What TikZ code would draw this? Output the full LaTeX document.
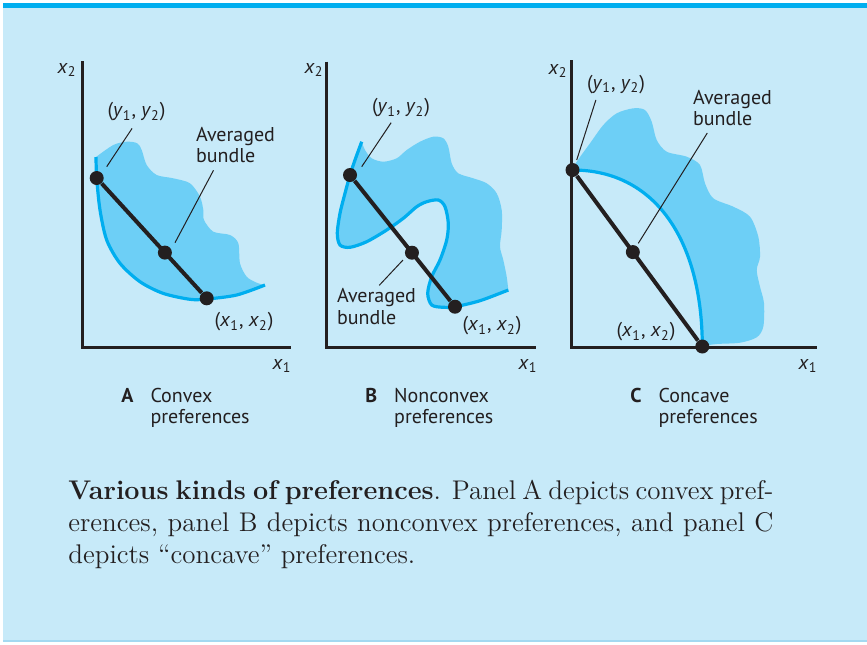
\documentclass[tikz,border=0pt]{standalone}
\usepackage{fontspec}
\setsansfont{PT Sans}
\usepackage{xcolor}
\definecolor{panelBlue}{HTML}{C7EAF9}
\definecolor{stripeBlue}{HTML}{00AEEF}
\definecolor{panelEdge}{HTML}{A3D9F1}
\definecolor{blobBlue}{HTML}{6DCFF6}
\definecolor{curveBlue}{HTML}{00AEEF}
\definecolor{inkGray}{HTML}{231F20}
\usepackage{tikz}
\usetikzlibrary{positioning}

\newcommand\vsub[2]{\textit{#1}\textsubscript{#2}}
\newcommand\pname[2]{\textbf{#1}\hspace{8.5pt}#2\\\phantom{\textbf{#1}}\hspace{8.5pt}preferences}

\begin{document}
\begin{tikzpicture}[
  x=0.5pt, y=-0.5pt,
  font=\sffamily\fontsize{10}{10.6}\selectfont, text=inkGray,
  axis/.style={draw=inkGray, line width=1.5pt},
  blob/.style={fill=blobBlue},
  indiff/.style={draw=curveBlue, line width=1.6pt},
  seg/.style={draw=inkGray, line width=2pt},
  dot/.style={circle, fill=inkGray, inner sep=0pt, minimum size=7pt},
  lead/.style={draw=inkGray, line width=0.5pt},
  lbl/.style={inner sep=0pt},
  note/.style={inner sep=0pt, align=left},
  panel/.style={inner sep=0pt, align=left, anchor=north west}
]
\useasboundingbox (0,0) rectangle (867,644);

% frame
\fill[white] (0,0) rectangle (867,644);
\fill[panelBlue] (3,4) rectangle (867,641);
\fill[stripeBlue] (3,3) rectangle (867,8);
\draw[panelEdge, line width=0.6pt] (3,641) -- (867,641);

% panel A: convex
\fill[blob] plot[smooth] coordinates {(96,157) (96.7,178) (100,210) (106.7,240) (120,263.3) (140,281.7) (163,293.3) (190,299.3) (206.7,299) (236.7,295) (265,285)}
  -- plot[smooth] coordinates {(265,285) (256.7,282.7) (246.7,276.7) (240,263.3) (238.3,243.3) (230,235) (213.3,231.7) (204,220) (203.3,210) (200,196.7) (190,183.3) (173.3,178.3) (156.7,175) (146.7,165) (141.7,150) (137.3,143.3) (126.7,141.7) (113.3,145) (96,157)} -- cycle;
\draw[indiff] plot[smooth] coordinates {(96,157) (96.7,178) (100,210) (106.7,240) (120,263.3) (140,281.7) (163,293.3) (190,299.3) (206.7,299) (236.7,295) (265,285)};
\draw[axis] (82,61) |- (291,347);
\node[dot] (yA) at (96.7,178) {};
\node[dot] (xA) at (206.7,298.3) {};
\path (yA.center) -- (xA.center) node[dot, pos=0.62] (mA) {};
\draw[seg] (yA) -- (xA);
\node[lbl] (lblYA) at (136.5,112) {(\vsub{y}{1}, \vsub{y}{2})};
\coordinate (tipYA) at (106.7,166.7);
\draw[lead, shorten <=4pt] (lblYA.south) -- (tipYA);
\node[note] (lblMA) at (235.5,145) {Averaged\\bundle};
\coordinate (tipMA) at (175,242.7);
\draw[lead, shorten <=4pt] (lblMA.-135) -- (tipMA);
\node[lbl] (lblXA) at (244,322) {(\vsub{x}{1}, \vsub{x}{2})};
\node[lbl] (axYA) at (67,70) {\vsub{x}{2}};
\node[lbl] (axXA) at (282,366) {\vsub{x}{1}};
\node[panel] (capA) at (121,387.5) {\pname{A}{Convex}};

% panel B: nonconvex
\fill[blob] plot[smooth] coordinates {(361.7,141.7) (355,160) (350,175) (345,193.3) (340,213.3) (337.3,233.3) (340,245) (350,247.3) (366.7,241.7) (386.7,230) (403.3,218.3) (416.7,206.7) (426.7,201.7) (438.3,200) (445,206.7) (448.3,223.3) (446.7,240) (440,260) (431.7,276.7) (427.7,293.3) (431.7,305) (443.3,307.3) (455,306.7) (480,300.7) (508.3,290)}
  -- plot[smooth] coordinates {(508.3,290) (506.7,276.7) (503.3,260) (500,246.7) (501.7,230) (501.7,210) (496.7,193.3) (486.7,183.3) (473.3,178.3) (458.3,173.3) (451.7,163.3) (448.3,146.7) (443.3,138.3) (433.3,136.7) (420,141.7) (406.7,150) (396.7,158.3) (383.3,161.7) (371.7,158.3) (365,150) (361.7,141.7)} -- cycle;
\draw[indiff] plot[smooth] coordinates {(361.7,141.7) (355,160) (350,175) (345,193.3) (340,213.3) (337.3,233.3) (340,245) (350,247.3) (366.7,241.7) (386.7,230) (403.3,218.3) (416.7,206.7) (426.7,201.7) (438.3,200) (445,206.7) (448.3,223.3) (446.7,240) (440,260) (431.7,276.7) (427.7,293.3) (431.7,305) (443.3,307.3) (455,306.7) (480,300.7) (508.3,290)};
\draw[axis] (326.7,61.7) |- (536,347);
\node[dot] (yB) at (350,175) {};
\node[dot] (xB) at (455,306.7) {};
\path (yB.center) -- (xB.center) node[dot, pos=0.59] (mB) {};
\draw[seg] (yB) -- (xB);
\node[lbl] (lblYB) at (401,108) {(\vsub{y}{1}, \vsub{y}{2})};
\coordinate (tipYB) at (361.7,166.7);
\draw[lead, shorten <=3pt] (lblYB.-124) -- (tipYB);
\node[note] (lblMB) at (376.5,306.5) {Averaged\\bundle};
\coordinate (tipMB) at (403,260);
\draw[lead, shorten <=2pt] (lblMB.north) -- (tipMB);
\node[lbl] (lblXB) at (492,326) {(\vsub{x}{1}, \vsub{x}{2})};
\node[lbl] (axYB) at (314,70) {\vsub{x}{2}};
\node[lbl] (axXB) at (528,366) {\vsub{x}{1}};
\node[panel] (capB) at (365,387.5) {\pname{B}{Nonconvex}};

% panel C: concave
\fill[blob] (572.5,170) .. controls (655,170) and (702,240) .. (702.3,346)
  -- plot[smooth] coordinates {(702.3,346) (716.7,344) (740,342.7) (756.7,337.3) (763.3,326.7) (764,303.3) (760,286.7) (756.7,270) (760,256.7) (758.3,236.7) (750,216.7) (733.3,206.7) (713.3,198.3) (705,183.3) (700,165) (686.7,156.7) (666.7,151.7) (656.7,140) (651.7,121.7) (645,110) (633.3,108.3) (616.7,113.3) (603.3,125) (590,143.3) (576.7,161.7) (572.5,170)} -- cycle;
\draw[indiff] (572.5,170) .. controls (655,170) and (702,240) .. (702.3,346);
\draw[axis] (571.7,60) |- (816.7,347);
\node[dot] (yC) at (572.5,170) {};
\node[dot] (xC) at (702.3,346.5) {};
\path (yC.center) -- (xC.center) node[dot, pos=0.465] (mC) {};
\draw[seg] (yC) -- (xC);
\node[lbl] (lblYC) at (616,84.5) {(\vsub{y}{1}, \vsub{y}{2})};
\coordinate (tipYC) at (576.7,160);
\draw[lead, shorten <=3pt] (lblYC.-152) -- (tipYC);
\node[note] (lblMC) at (732.5,108) {Averaged\\bundle};
\coordinate (tipMC) at (638.3,243.3);
\draw[lead, shorten <=4pt] (lblMC.-139) -- (tipMC);
\node[lbl] (lblXC) at (646,332) {(\vsub{x}{1}, \vsub{x}{2})};
\node[lbl] (axYC) at (558,71) {\vsub{x}{2}};
\node[lbl] (axXC) at (808,366) {\vsub{x}{1}};
\node[panel] (capC) at (630,387.5) {\pname{C}{Concave}};

% caption
\node[anchor=north west, inner sep=0pt, text width=352.5pt, align=justify,
      font=\rmfamily\fontsize{13.5}{16}\selectfont] (capt) at (68,479.5)
  {\textbf{Various kinds of preferences}.  Panel A depicts convex pref-\linebreak
   erences, panel B depicts nonconvex preferences, and panel C\linebreak
   depicts ``concave'' preferences.};
\end{tikzpicture}
\end{document}
